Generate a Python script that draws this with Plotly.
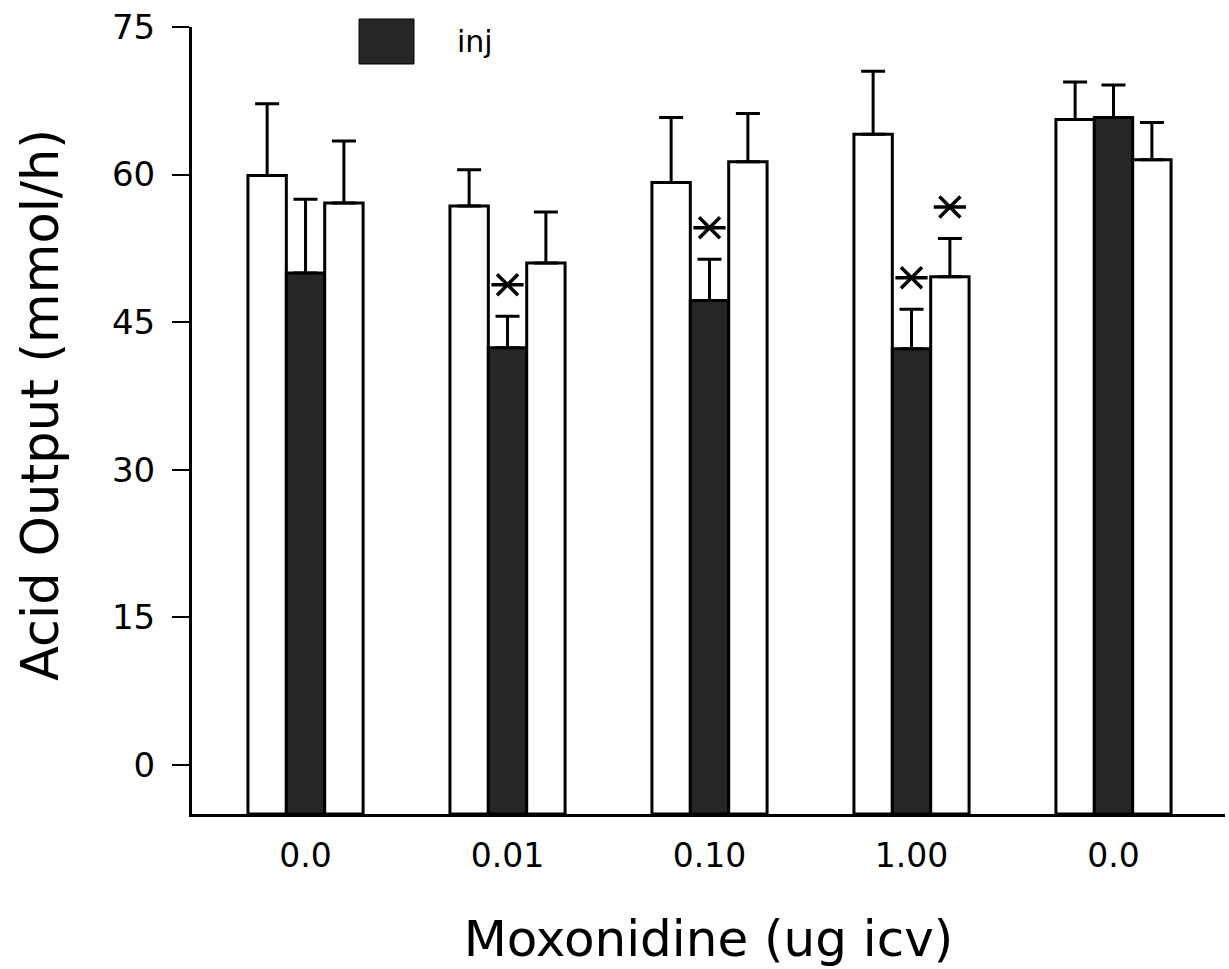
import plotly.graph_objects as go

# ---- data ----
dose_labels = ["0.0", "0.01", "0.10", "1.00", "0.0"]
positions = [0, 1, 2, 3, 4]

pre_mean = [59.9, 56.8, 59.2, 64.1, 65.6]
pre_err = [7.3, 3.7, 6.6, 6.4, 3.8]

inj_mean = [50.0, 42.4, 47.2, 42.3, 65.8]
inj_err = [7.5, 3.2, 4.2, 4.0, 3.3]

post_mean = [57.1, 51.0, 61.3, 49.6, 61.5]
post_err = [6.3, 5.2, 4.9, 3.9, 3.8]

inj_sig = [False, True, True, True, False]
post_sig = [False, False, False, True, False]

y_min, y_max = -5, 75
y_ticks = [0, 15, 30, 45, 60, 75]

# ---- style ----
FONT = "DejaVu Sans"
BARGAP = 0.43
DARK = "#262626"
STAR_OFFSET = 3.2

fig = go.Figure()

series = [
    ("pre", pre_mean, pre_err, "white", -1),
    ("inj", inj_mean, inj_err, DARK, 0),
    ("post", post_mean, post_err, "white", 1),
]

for name, mean, err, color, slot in series:
    fig.add_trace(go.Bar(
        name=name,
        x=positions,
        y=[m - y_min for m in mean],
        base=y_min,
        marker=dict(color=color, line=dict(color="black", width=3)),
        error_y=dict(type="data", symmetric=False, array=err,
                     arrayminus=[0] * len(err), color="black",
                     thickness=3, width=12),
        showlegend=False,
        hoverinfo="skip",
    ))

bar_w = (1 - BARGAP) / 3


def add_stars(mean, err, sig, slot):
    xs = [p + slot * bar_w for p, s in zip(positions, sig) if s]
    ys = [m + e + STAR_OFFSET for m, e, s in zip(mean, err, sig) if s]
    for sym, size in (("x-thin-open", 21), ("line-ew-open", 23)):
        fig.add_trace(go.Scatter(
            x=xs, y=ys, mode="markers",
            marker=dict(symbol=sym, size=size, color="black",
                        line=dict(color="black", width=3.5)),
            showlegend=False, hoverinfo="skip",
        ))


add_stars(inj_mean, inj_err, inj_sig, 0)
add_stars(post_mean, post_err, post_sig, 1)

fig.update_layout(
    width=1229, height=969,
    margin=dict(l=192, r=4, t=27, b=155),
    plot_bgcolor="white", paper_bgcolor="white",
    barmode="group", bargap=BARGAP, bargroupgap=0,
    font=dict(family=FONT, color="black"),
    xaxis=dict(
        range=[-0.562, 4.552],
        tickvals=positions, ticktext=dose_labels,
        tickfont=dict(size=33, family=FONT),
        ticks="", ticklabelstandoff=10,
        showline=True, linecolor="black", linewidth=3,
        showgrid=False, zeroline=False,
        title=dict(text="Moxonidine (ug icv)",
                   font=dict(size=50, family=FONT), standoff=48),
    ),
    yaxis=dict(
        range=[y_min, y_max],
        tickvals=y_ticks,
        tickfont=dict(size=34, family=FONT),
        ticks="outside", ticklen=17, tickwidth=2, tickcolor="black",
        ticklabelstandoff=10,
        showline=True, linecolor="black", linewidth=3,
        showgrid=False, zeroline=False,
    ),
)

# y-axis title
fig.add_annotation(text="Acid Output (mmol/h)", xref="paper", yref="paper",
                   x=-0.146, y=0.52, xanchor="center", yanchor="middle",
                   textangle=-90, showarrow=False,
                   font=dict(size=51, family=FONT))

# manual legend swatch for "inj"
fig.add_shape(type="rect", xref="paper", yref="paper",
              x0=0.1617, x1=0.2149, y0=0.953, y1=1.0102,
              fillcolor=DARK, line=dict(color="black", width=1))
fig.add_annotation(text="inj", xref="paper", yref="paper",
                   x=0.2546, y=0.981, xanchor="left", yanchor="middle",
                   showarrow=False, font=dict(size=30, family=FONT))

fig.write_html("out.html")
